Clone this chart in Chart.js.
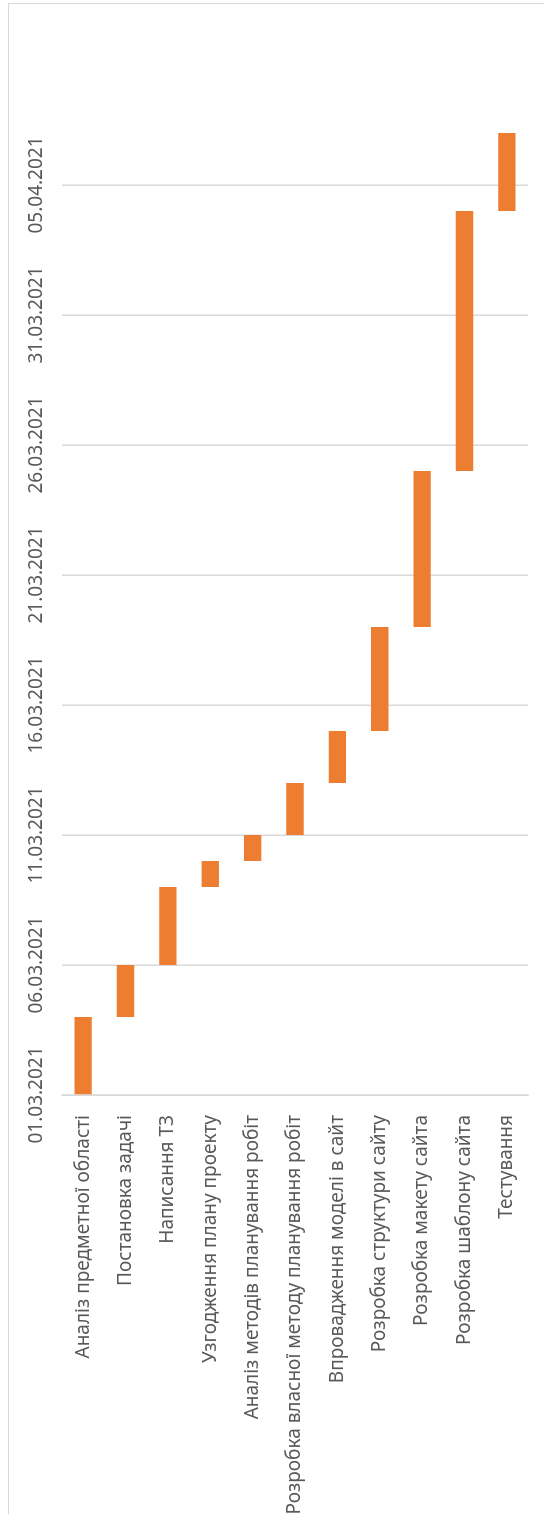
<!DOCTYPE html>
<html>
<head>
<meta charset="utf-8">
<script src="https://cdn.jsdelivr.net/npm/chart.js@4/dist/chart.umd.min.js"></script>
<style>
  html, body { margin: 0; padding: 0; background: #fff; overflow: hidden; }
  #frame { position: absolute; left: 8px; top: 3px; width: 600px; height: 1600px;
           border-left: 1.5px solid #d9d9d9; border-top: 1.5px solid #d9d9d9; }
  #wrap { position: absolute; left: 0; top: 0; width: 1514px; height: 544px;
          transform-origin: 0 0; transform: translate(0px, 1514px) rotate(-90deg); }
  canvas { display: block; }
</style>
</head>
<body>
<div id="frame"></div>
<div id="wrap"><canvas id="c" width="1514" height="544"></canvas></div>
<script>
// ---- data ----
const tasks = [
  'Аналіз предметної області',
  'Постановка задачі',
  'Написання ТЗ',
  'Узгодження плану проекту',
  'Аналіз методів планування робіт',
  'Розробка власної методу планування робіт',
  'Впровадження моделі в сайт',
  'Розробка структури сайту',
  'Розробка макету сайта',
  'Розробка шаблону сайта',
  'Тестування'
];
const startDates = ['01.03.2021','04.03.2021','06.03.2021','09.03.2021','10.03.2021','11.03.2021',
                    '13.03.2021','15.03.2021','19.03.2021','25.03.2021','04.04.2021'];
const endDates   = ['04.03.2021','06.03.2021','09.03.2021','10.03.2021','11.03.2021','13.03.2021',
                    '15.03.2021','19.03.2021','25.03.2021','04.04.2021','07.04.2021'];
const axisStart = '01.03.2021';
const axisEnd = '09.04.2021';
const tickStepDays = 5;

// ---- helpers ----
function toUTC(s) { const [d, m, y] = s.split('.').map(Number); return Date.UTC(y, m - 1, d); }
const DAY = 86400000;
const base = toUTC(axisStart);
function dayIndex(s) { return Math.round((toUTC(s) - base) / DAY); }
function fmt(v) {
  const d = new Date(base + v * DAY);
  const p = n => String(n).padStart(2, '0');
  return p(d.getUTCDate()) + '.' + p(d.getUTCMonth() + 1) + '.' + d.getUTCFullYear();
}
const ranges = startDates.map((s, i) => [dayIndex(s), dayIndex(endDates[i])]);

const FONT = { family: '"Noto Sans", "Liberation Sans", sans-serif', size: 19 };
const TXT = '#595959';

new Chart(document.getElementById('c'), {
  type: 'bar',
  data: {
    labels: tasks,
    datasets: [{
      data: ranges,
      backgroundColor: '#ED7D31',
      borderWidth: 0,
      barPercentage: 0.41,
      categoryPercentage: 1.0
    }]
  },
  options: {
    indexAxis: 'y',
    responsive: false,
    animation: false,
    devicePixelRatio: 1,
    layout: { padding: { left: 0, right: 81, top: 0, bottom: 16 } },
    plugins: { legend: { display: false }, tooltip: { enabled: false } },
    scales: {
      x: {
        position: 'top',
        min: 0,
        max: dayIndex(axisEnd),
        afterBuildTicks: s => { s.ticks = s.ticks.filter(t => t.value % tickStepDays === 0); },
        afterFit: s => { s.paddingLeft = 0; s.paddingRight = 0; s.height = 62; },
        ticks: { stepSize: tickStepDays, color: TXT, font: FONT, padding: 14, maxRotation: 0,
                 callback: v => fmt(v) },
        grid: { color: '#d9d9d9', lineWidth: 1.5, drawTicks: false },
        border: { display: false }
      },
      y: {
        afterFit: s => { s.width = 419; s.paddingTop = 0; s.paddingBottom = 0; },
        ticks: { color: TXT, font: FONT, padding: 20, autoSkip: false },
        grid: { display: false, drawTicks: false },
        border: { display: true, color: '#d9d9d9', width: 1.5 }
      }
    }
  }
});
</script>
</body>
</html>
